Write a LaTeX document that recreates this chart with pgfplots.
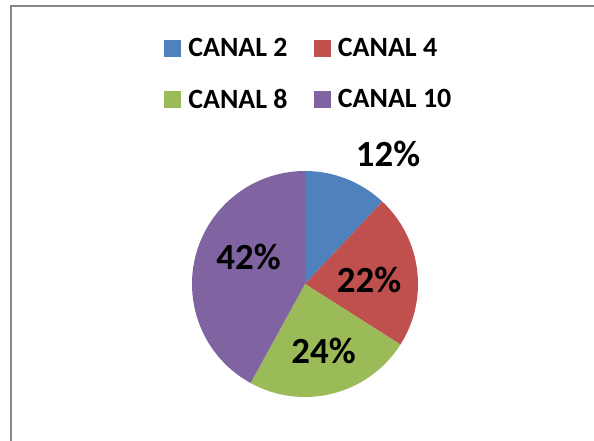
\documentclass[border=0pt]{standalone}
\usepackage{pgfplots}
\usepackage{pgfplotstable}
\pgfplotsset{compat=1.18}
\usepackage{fontspec}
\setmainfont{Carlito}
\definecolor{pie0}{HTML}{4F81BD}
\definecolor{pie1}{HTML}{C0504D}
\definecolor{pie2}{HTML}{9BBB59}
\definecolor{pie3}{HTML}{8064A2}
\definecolor{framegray}{HTML}{868686}

\pgfplotstableread{
value
12
22
24
42
}\piedata

\begin{document}
\begin{tikzpicture}
\begin{axis}[width=594bp, height=441bp, scale only axis,
  xmin=0, xmax=594, ymin=0, ymax=441, hide axis, clip=false,
  legend columns=2, legend cell align=left,
  legend style={at={(axis cs:164,403)}, anchor=north west, draw=none, fill=none,
    inner sep=0pt, outer sep=0pt,
    font=\bfseries\fontsize{28}{32}\selectfont, row sep=31bp,
    nodes={inner sep=0pt, outer sep=0pt},
    /tikz/every odd column/.append style={column sep=8bp},
    /tikz/every even column/.append style={column sep=26bp}},
  legend image code/.code={\fill[#1] (0bp,-8bp) rectangle (16bp,8bp);}]

\def\cum{0}
\pgfplotstableforeachcolumnelement{value}\of\piedata\as\v{%
  \pgfmathsetmacro\a{90-3.6*\cum}%
  \pgfmathsetmacro\b{90-3.6*(\cum+\v)}%
  \edef\temp{\noexpand\fill[pie\pgfplotstablerow] (axis cs:305,157) -- ++(\a:113bp) arc[start angle=\a, end angle=\b, radius=113bp] -- cycle;}%
  \temp
  \pgfmathsetmacro\newcum{\cum+\v}%
  \global\let\cum\newcum
}

\addlegendimage{pie0}\addlegendentry{CANAL 2}
\addlegendimage{pie1}\addlegendentry{CANAL 4}
\addlegendimage{pie2}\addlegendentry{CANAL 8}
\addlegendimage{pie3}\addlegendentry{CANAL 10}

\node[anchor=base, font=\bfseries\fontsize{37}{40}\selectfont] at (axis cs:388,274) {12\%};
\node[anchor=base, font=\bfseries\fontsize{37}{40}\selectfont] at (axis cs:369,148) {22\%};
\node[anchor=base, font=\bfseries\fontsize{37}{40}\selectfont] at (axis cs:323.5,77) {24\%};
\node[anchor=base, font=\bfseries\fontsize{37}{40}\selectfont] at (axis cs:248.5,171) {42\%};

\draw[framegray, line width=2bp] (axis cs:11,0) -- (axis cs:11,435) -- (axis cs:594,435);
\end{axis}
\pgfresetboundingbox
\useasboundingbox (current axis.south west) rectangle (current axis.north east);
\end{tikzpicture}
\end{document}
